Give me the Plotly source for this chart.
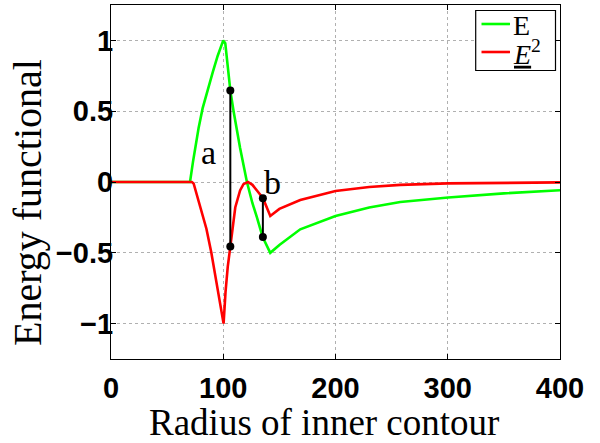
import plotly.graph_objects as go

# Green curve: E
e_x = [0, 70.4, 73, 75, 78, 81.6, 85, 90.8, 95, 100, 101.8, 104, 106.3, 109.2, 115, 121.1,
       126, 130, 135.1, 141.9, 150, 168.6, 200, 230, 257.7, 300.5, 350, 400]
e_y = [0, 0, 0.14, 0.24, 0.38, 0.52, 0.62, 0.78, 0.89, 1.0, 0.98, 0.8, 0.647, 0.5, 0.24, 0,
       -0.15, -0.25, -0.388, -0.5, -0.445, -0.334, -0.24, -0.18, -0.141, -0.11, -0.08, -0.058]

# Red curve: underlined E^2
r_x = [0, 72, 73.6, 76, 79.3, 85, 89.4, 95, 100.3, 102, 104, 106.3, 110.7, 115, 118,
       122, 126, 130, 135.4, 141.9, 150, 168.6, 200, 230, 257.7, 300, 350, 400]
r_y = [0, 0, -0.01, -0.08, -0.18, -0.33, -0.5, -0.76, -1.0, -0.78, -0.6, -0.456, -0.18,
       -0.06, -0.015, 0, -0.02, -0.06, -0.115, -0.24, -0.19, -0.127, -0.063, -0.035,
       -0.02, -0.01, -0.005, -0.003]

# Marked differences a and b
a_x = [106.3, 106.3]
a_y = [0.647, -0.456]
b_x = [135.3, 135.3]
b_y = [-0.115, -0.388]

labels = ["a", "b"]
label_x = [86.7, 143.7]
label_y = [0.21, 0.0]

series_names = ["E", "<u><i>E</i></u><sup>2</sup>"]
series_colors = ["#00ff00", "#ff0000"]

x_title = "Radius of inner contour"
y_title = "Energy functional"

x_ticks = [0, 100, 200, 300, 400]
y_ticks = [-1, -0.5, 0, 0.5, 1]
y_tick_text = ["\u22121", "\u22120.5", "0", "0.5", "1"]

W, H = 600, 443
ML, MR, MT, MB = 111, 40, 5, 84
PW, PH = W - ML - MR, H - MT - MB


def px_x(p):
    return (p - ML) / PW


def px_y(p):
    return (H - MB - p) / PH


fig = go.Figure()
fig.add_trace(go.Scatter(x=e_x, y=e_y, mode="lines", name=series_names[0], showlegend=False,
                         line=dict(color=series_colors[0], width=2.6)))
fig.add_trace(go.Scatter(x=r_x, y=r_y, mode="lines", name=series_names[1], showlegend=False,
                         line=dict(color=series_colors[1], width=2.6)))
for sx, sy in [(a_x, a_y), (b_x, b_y)]:
    fig.add_trace(go.Scatter(x=sx, y=sy, mode="lines+markers", showlegend=False,
                             line=dict(color="black", width=2),
                             marker=dict(color="black", size=8)))

for t, tx, ty in zip(labels, label_x, label_y):
    fig.add_annotation(x=tx, y=ty, text=t, showarrow=False,
                       font=dict(family="Liberation Serif", size=34, color="black"))

# Legend box (drawn manually to match the compact MATLAB legend)
fig.add_shape(type="rect", xref="paper", yref="paper",
              x0=px_x(475.7), x1=px_x(555.5), y0=px_y(70.5), y1=px_y(10.5),
              line=dict(color="black", width=1.2), fillcolor="white", layer="above")
legend_rows = [24, 52]
for name, color, row in zip(series_names, series_colors, legend_rows):
    fig.add_shape(type="line", xref="paper", yref="paper",
                  x0=px_x(481.5), x1=px_x(510), y0=px_y(row), y1=px_y(row),
                  line=dict(color=color, width=2.6), layer="above")
    fig.add_annotation(xref="paper", yref="paper", x=px_x(511), y=px_y(row + 1),
                       xanchor="left", yanchor="middle", showarrow=False, text=name,
                       font=dict(family="Liberation Serif", size=28, color="black"))

# Axis titles (placed as in the reference)
fig.add_annotation(xref="paper", yref="paper", x=px_x(324), y=px_y(422),
                   xanchor="center", yanchor="middle", showarrow=False, text=x_title,
                   font=dict(family="Liberation Serif", size=37, color="black"))
fig.add_annotation(xref="paper", yref="paper", x=px_x(27), y=px_y(203),
                   xanchor="center", yanchor="middle", showarrow=False, text=y_title,
                   textangle=-90,
                   font=dict(family="Liberation Serif", size=40, color="black"))

axis_common = dict(showline=True, linecolor="black", linewidth=1.2, mirror="ticks",
                   ticks="inside", ticklen=5, tickcolor="black",
                   showgrid=True, gridcolor="#b0b0b0", griddash="dot", gridwidth=1,
                   zeroline=False,
                   tickfont=dict(family="Liberation Sans", size=29, color="black", weight="bold"))

fig.update_xaxes(range=[0, 400], tickvals=x_ticks, ticktext=[str(v) for v in x_ticks],
                 ticklabelstandoff=3, **axis_common)
fig.update_yaxes(range=[-1.25, 1.25], tickvals=y_ticks, ticktext=y_tick_text,
                 ticklabelstandoff=-9, **axis_common)

fig.update_layout(
    width=W, height=H,
    margin=dict(l=ML, r=MR, t=MT, b=MB),
    plot_bgcolor="white", paper_bgcolor="white",
    showlegend=False,
)

fig.write_html("out.html", config={"displayModeBar": False},
               post_script="document.body.style.margin='0';")
